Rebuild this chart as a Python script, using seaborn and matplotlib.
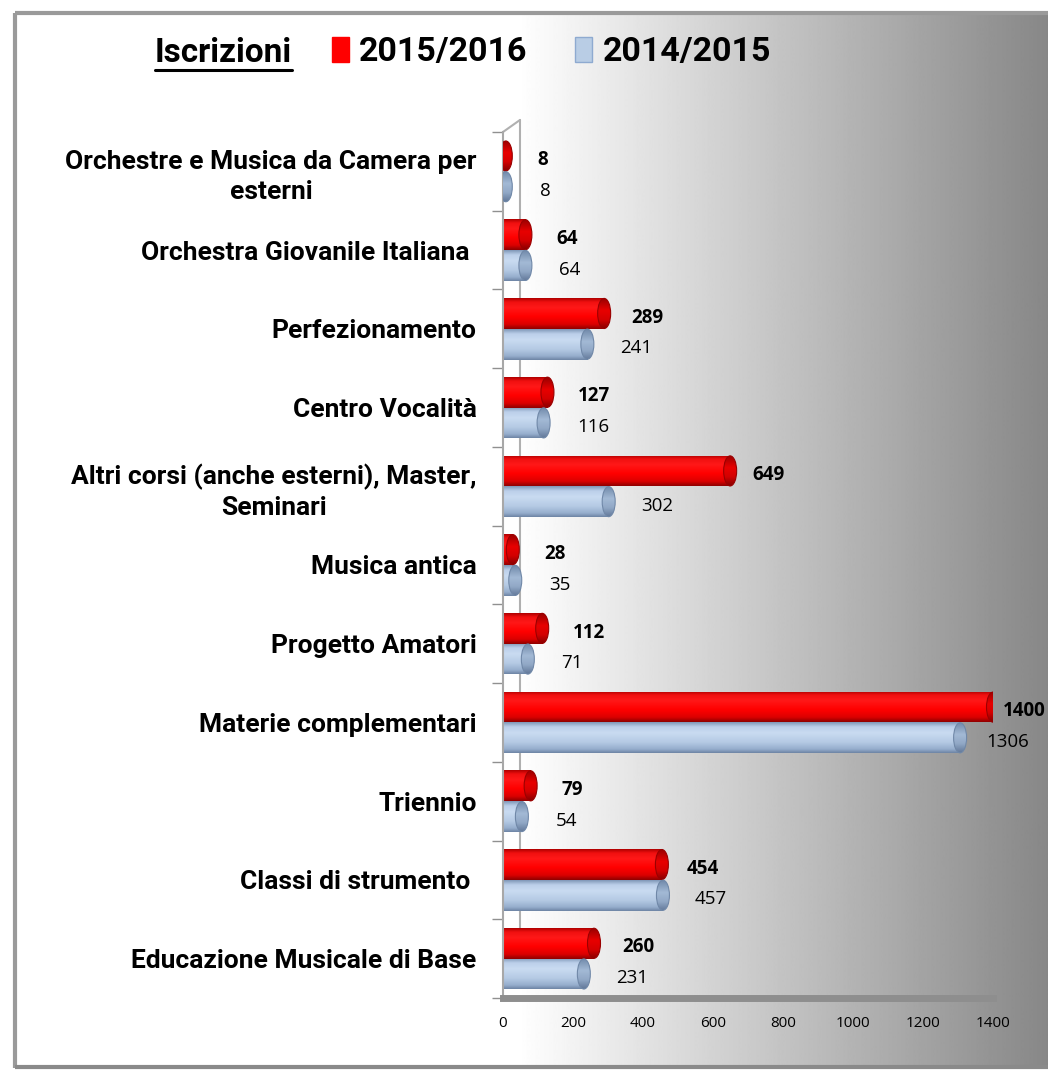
import numpy as np
import pandas as pd
import matplotlib
matplotlib.use("Agg")
import matplotlib.pyplot as plt
import seaborn as sns
from matplotlib.colors import LinearSegmentedColormap
from matplotlib.patches import Ellipse, Patch
from matplotlib.lines import Line2D
from matplotlib.transforms import ScaledTranslation

# ---------------- data ----------------
categories = [
    "Orchestre e Musica da Camera per\nesterni",
    "Orchestra Giovanile Italiana ",
    "Perfezionamento",
    "Centro Vocalità",
    "Altri corsi (anche esterni), Master,\nSeminari",
    "Musica antica",
    "Progetto Amatori",
    "Materie complementari",
    "Triennio",
    "Classi di strumento ",
    "Educazione Musicale di Base",
]
years = ["2015/2016", "2014/2015"]
iscritti_2015_2016 = [8, 64, 289, 127, 649, 28, 112, 1400, 79, 454, 260]
iscritti_2014_2015 = [8, 64, 241, 116, 302, 35, 71, 1306, 54, 457, 231]
x_ticks = [0, 200, 400, 600, 800, 1000, 1200, 1400]
title_text = "Iscrizioni"

df = pd.DataFrame({
    "Corso": categories * 2,
    "Iscritti": iscritti_2015_2016 + iscritti_2014_2015,
    "Anno": [years[0]] * len(categories) + [years[1]] * len(categories),
})

# ---------------- style ----------------
sns.set_theme(style="white")
plt.rcParams["font.family"] = ["Roboto", "DejaVu Sans"]

W, H = 1048, 1071
fig = plt.figure(figsize=(W / 100, H / 100), dpi=100)
fig.patch.set_facecolor("white")

# background panel with horizontal gradient
bg = fig.add_axes([0, 0, 1, 1], zorder=-5)
bg.set_xlim(0, W)
bg.set_ylim(H, 0)
bg.axis("off")
xs = np.arange(W)
vals = np.where(xs < 510, 255.0, 255.0 - (xs - 510) * (120.0 / 538.0)) / 255.0
grad_img = np.tile(vals, (2, 1))
bg.imshow(grad_img, cmap="gray", vmin=0, vmax=1, extent=(15, W, 1068, 13),
          aspect="auto", interpolation="bilinear")
bg.plot([15, 15], [13, 1068], color="#9a9a9a", lw=3, solid_capstyle="butt")
bg.plot([15, W], [13, 13], color="#9a9a9a", lw=3, solid_capstyle="butt")
bg.plot([15, W], [1067, 1067], color="#8a8a8a", lw=3, solid_capstyle="butt")

# main axes
ax = fig.add_axes([503 / W, 1 - 998 / H, 490 / W, (998 - 132) / H])
ax.set_facecolor("none")

red = "#ff0000"
blue = "#b9cde5"
sns.barplot(data=df, y="Corso", x="Iscritti", hue="Anno", hue_order=years,
            orient="h", palette=[red, blue], width=0.78, saturation=1,
            legend=False, ax=ax)

ax.set_xlim(0, 1400)
ax.set_ylim(10.5, -0.5)

red_cmap = LinearSegmentedColormap.from_list(
    "r", [(0, "#b00000"), (0.12, "#f01010"), (0.3, "#ff1818"),
          (0.6, "#ff0000"), (0.85, "#dc0000"), (1, "#900000")])
blue_cmap = LinearSegmentedColormap.from_list(
    "b", [(0, "#8098b8"), (0.15, "#bcd0ea"), (0.35, "#c9dbf1"),
          (0.65, "#b5cae4"), (0.88, "#96aecd"), (1, "#6e85a5")])
red_cap = LinearSegmentedColormap.from_list(
    "rc", [(0, "#980000"), (0.4, "#e80000"), (0.7, "#d40000"), (1, "#860000")])
blue_cap = LinearSegmentedColormap.from_list(
    "bc", [(0, "#7089a9"), (0.4, "#a3b9d5"), (0.7, "#91a8c6"), (1, "#627898")])

grad = np.linspace(0, 1, 64).reshape(-1, 1)
ax_px = 490.0
cap_w = 13 * 1400 / ax_px

# label anchor: labels sit on a slightly compressed (3D front-plane) scale
styles = [
    dict(cmap=red_cmap, cap=red_cap, edge="#9a0000", weight="bold",
         scale=0.955, dx=32 * 0.72),
    dict(cmap=blue_cmap, cap=blue_cap, edge="#7088a8", weight="normal",
         scale=0.984, dx=34 * 0.72),
]

for ci, cont in enumerate(ax.containers):
    st = styles[ci]
    for p, v in zip(cont.patches, cont.datavalues):
        x0, y0, w, h = p.get_x(), p.get_y(), p.get_width(), p.get_height()
        p.set_facecolor("none")
        p.set_edgecolor("none")
        im = ax.imshow(grad, cmap=st["cmap"], vmin=0, vmax=1,
                       extent=(x0, x0 + w, y0 + h, y0), origin="upper",
                       aspect="auto", interpolation="bilinear", zorder=2)
        im.set_clip_path(p)
        yc = y0 + h / 2
        cap = Ellipse((x0 + w, yc), cap_w, h * 0.98, facecolor="none",
                      edgecolor=st["edge"], lw=0.8, zorder=4)
        ax.add_patch(cap)
        im2 = ax.imshow(grad, cmap=st["cap"], vmin=0, vmax=1,
                        extent=(x0 + w - cap_w / 2, x0 + w + cap_w / 2, y0 + h, y0),
                        origin="upper", aspect="auto", interpolation="bilinear",
                        zorder=3)
        im2.set_clip_path(cap)
        ax.annotate(f"{int(v)}", xy=(w * st["scale"], yc), xytext=(st["dx"], -3),
                    textcoords="offset points", ha="left", va="center",
                    fontsize=13.5, fontweight=st["weight"], color="black",
                    fontfamily=["Open Sans", "DejaVu Sans"],
                    annotation_clip=False, zorder=6)

ax.set_xlim(0, 1400)
ax.set_ylim(10.5, -0.5)

# axes styling
ax.set_xlabel("")
ax.set_ylabel("")
for s in ("top", "right"):
    ax.spines[s].set_visible(False)
ax.spines["bottom"].set_color("#8e8e8e")
ax.spines["bottom"].set_linewidth(5)
ax.spines["left"].set_color("#a8a8a8")
ax.spines["left"].set_linewidth(1.5)

ax.set_xticks(x_ticks)
ax.set_xticklabels([str(t) for t in x_ticks], fontsize=11,
                   fontfamily=["Open Sans", "DejaVu Sans"])
ax.tick_params(axis="x", length=0, pad=13, colors="black")

ax.set_yticks(range(len(categories)))
ax.set_yticklabels(categories, fontsize=19, fontweight="bold")
for lab in ax.get_yticklabels():
    lab.set_multialignment("center")
    lab.set_linespacing(1.3)
ax.set_yticks(np.arange(-0.5, len(categories), 1), minor=True)
ax.tick_params(axis="y", which="major", length=0, pad=19, colors="black")
ax.tick_params(axis="y", which="minor", left=True, length=8, width=1,
               color="#909090", direction="out")

# 3D back wall line
off = ScaledTranslation(17 / 100, 12 / 100, fig.dpi_scale_trans)
ax.plot([0, 0], [0, 1], transform=ax.transAxes + off, color="#b0b0b0",
        lw=1.5, clip_on=False, zorder=1)
ax.plot([0, 0.0347], [1, 1.0139], transform=ax.transAxes, color="#b0b0b0",
        lw=1.5, clip_on=False, zorder=1)

# title + legend
t = fig.text(155 / W, 1 - 53 / H, title_text, fontsize=24, fontweight="bold",
             ha="left", va="center", color="black")
handles = [Patch(facecolor=red, edgecolor=red),
           Patch(facecolor=blue, edgecolor="#8eaad0")]
leg = fig.legend(handles, years, loc="center left",
                 bbox_to_anchor=(332 / W, 1 - 52 / H), ncol=2, frameon=False,
                 prop=dict(family="Roboto", weight="bold", size=24.5),
                 handlelength=0.5, handleheight=0.75, handletextpad=0.3,
                 columnspacing=1.4, borderaxespad=0, borderpad=0)
for txt in leg.get_texts():
    txt.set_color("black")

fig.canvas.draw()
bb = t.get_window_extent()
fig.add_artist(Line2D([bb.x0 / W, bb.x1 / W], [(bb.y0 - 1) / H, (bb.y0 - 1) / H],
                      transform=fig.transFigure, color="black", lw=2.2))

fig.savefig("out.png", dpi=100)
